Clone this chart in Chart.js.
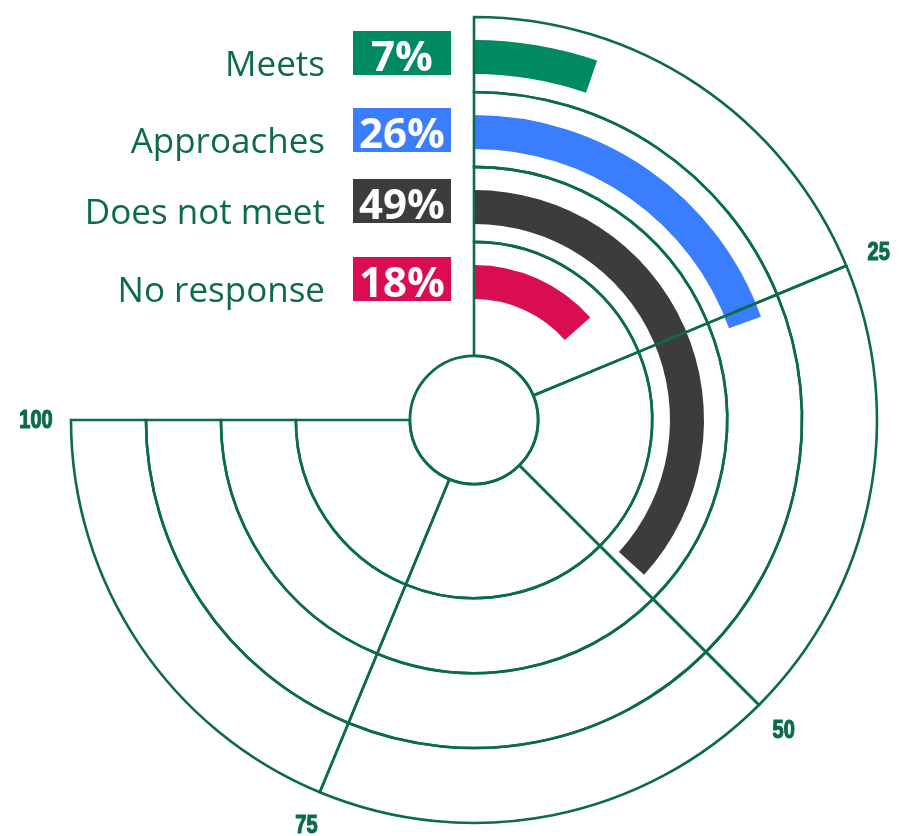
<!DOCTYPE html>
<html>
<head>
<meta charset="utf-8">
<script src="https://cdn.jsdelivr.net/npm/chart.js@4"></script>
<style>
    body { margin: 0; background: #fff; }
    #wrap { position: relative; width: 910px; height: 836px; overflow: hidden; }
    #wrap canvas { position: absolute; left: 0; top: 0; }
    .row { position: absolute; left: 0; width: 451px; height: 44px; }
    .name {
        position: absolute; right: 126px; bottom: -5px;
        font-family: "Open Sans", sans-serif; font-size: 35px; line-height: 35px;
        color: #0c6b4c; white-space: nowrap;
    }
    .box { position: absolute; left: 353px; top: 0; width: 98px; height: 44px; }
    .pct {
        position: absolute; left: 0; top: 3px; width: 100%; text-align: center;
        font-family: "Open Sans", sans-serif; font-weight: 700; font-size: 42px;
        line-height: 42px; color: #fff;
    }
</style>
</head>
<body>
<div id="wrap">
    <canvas id="bars" width="910" height="836"></canvas>
    <canvas id="grid" width="910" height="836"></canvas>
    <div id="legend"></div>
</div>
<script>
const categories = ['Meets', 'Approaches', 'Does not meet', 'No response'];
const shares = [7, 26, 49, 18];
const barColors = ['#008a61', '#3a7eff', '#3c3c3c', '#da0d50'];
const tickSteps = [25, 25, 25, 25];
const tickLabels = ['25', '50', '75', '100'];

const LINE = '#0b6b4b';
const CLEAR = 'rgba(0,0,0,0)';
const rowTops = [31, 108, 179, 257];

// shared geometry: center (474, 420), outer radius 403
const sharedOptions = {
    responsive: false,
    animation: false,
    events: [],
    circumference: 270,
    rotation: 0,
    radius: 403,
    layout: { padding: { left: 71, right: 33, top: 17, bottom: 13 } },
    plugins: { legend: { display: false }, tooltip: { enabled: false } }
};

// tick labels at the end of each spoke (narrowed, heavy face)
const tickLabelPlugin = {
    id: 'tickLabels',
    afterDatasetsDraw(chart) {
        const ctx = chart.ctx;
        const meta = chart.getDatasetMeta(0);
        ctx.fillStyle = LINE;
        ctx.strokeStyle = LINE;
        ctx.lineWidth = 1.2;
        ctx.lineJoin = 'round';
        ctx.font = 'bold 25px "Liberation Sans", Arial, sans-serif';
        ctx.textAlign = 'center';
        ctx.textBaseline = 'middle';
        meta.data.forEach((arc, i) => {
            const r = arc.outerRadius + 35;
            const x = arc.x + Math.cos(arc.endAngle) * r;
            const y = arc.y + Math.sin(arc.endAngle) * r;
            ctx.save();
            ctx.translate(x, y);
            ctx.scale(0.8, 1);
            ctx.fillText(tickLabels[i], 0, 1);
            ctx.strokeText(tickLabels[i], 0, 1);
            ctx.restore();
        });
    }
};

// Grid rings: one dataset per band, the last one runs down to the hub
const ringWeights = [75, 75, 75, 114];
const gridDatasets = ringWeights.map(w => ({
    data: tickSteps,
    weight: w,
    backgroundColor: CLEAR,
    borderColor: LINE,
    borderWidth: 2.6,
    borderJoinStyle: 'miter'
}));
gridDatasets.push({
    data: [1],
    weight: 0.2,
    circumference: 360,
    backgroundColor: CLEAR,
    borderColor: LINE,
    borderWidth: 2.6
});

new Chart(document.getElementById('grid').getContext('2d'), {
    type: 'doughnut',
    data: { datasets: gridDatasets },
    options: { ...sharedOptions, cutout: 63.8 },
    plugins: [tickLabelPlugin]
});

// Bars: spacer, bar, spacer for each category band
const barDatasets = [];
for (let i = 0; i < categories.length; i++) {
    barDatasets.push({ data: [], weight: 23 });
    barDatasets.push({
        label: categories[i],
        data: [shares[i], 100 - shares[i]],
        weight: 34,
        backgroundColor: [barColors[i], CLEAR],
        borderWidth: 0
    });
    barDatasets.push({ data: [], weight: 18 });
}

new Chart(document.getElementById('bars').getContext('2d'), {
    type: 'doughnut',
    data: { datasets: barDatasets },
    options: { ...sharedOptions, cutout: 103 }
});

// Legend rows
const legend = document.getElementById('legend');
categories.forEach((name, i) => {
    const row = document.createElement('div');
    row.className = 'row';
    row.style.top = rowTops[i] + 'px';
    row.innerHTML =
        `<span class="name">${name}</span>` +
        `<div class="box" style="background:${barColors[i]}"><span class="pct">${shares[i]}%</span></div>`;
    legend.appendChild(row);
});
</script>
</body>
</html>
